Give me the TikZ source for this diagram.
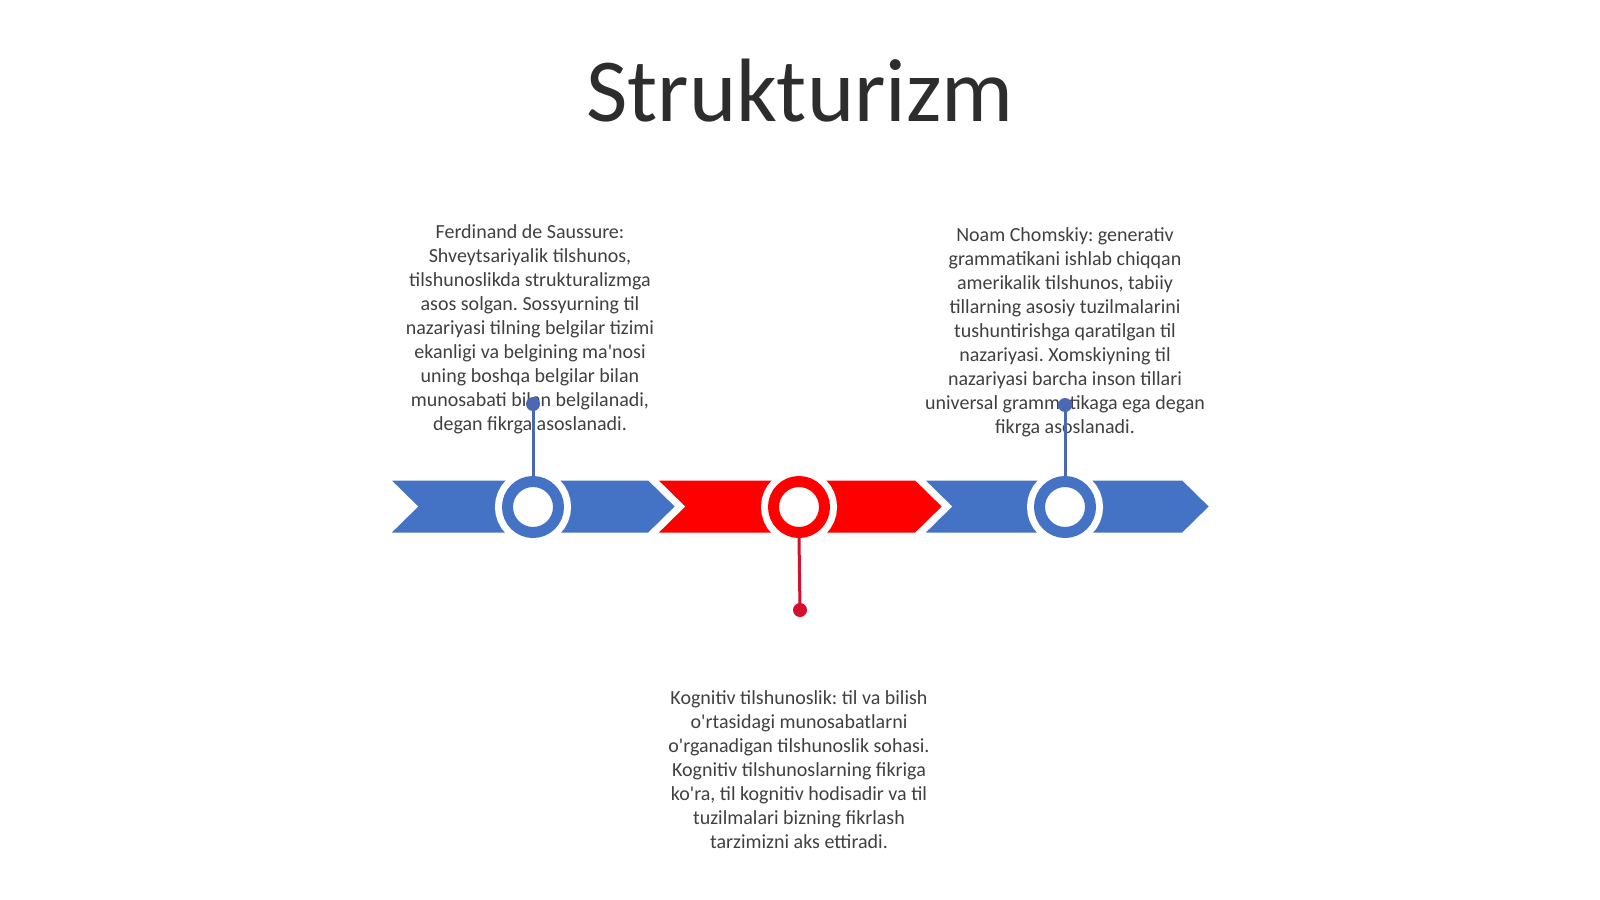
\documentclass[tikz,border=0pt]{standalone}
\usepackage{fontspec}
\setmainfont{Carlito}[Ligatures=TeXOff]
\usepackage{tikz}
\usetikzlibrary{calc,positioning,shapes}
\definecolor{segblue}{HTML}{4472C4}
\definecolor{segred}{HTML}{FF0000}
\definecolor{lineblue}{HTML}{4A68B4}
\definecolor{linered}{HTML}{D4102C}
\definecolor{txtgray}{HTML}{404040}
\tikzstyle{segment}   = [draw=white, line width=1.5pt, line join=miter]
\tikzstyle{ring}      = [circle, inner sep=0pt, minimum size=25.5pt, line width=5.5pt, fill=white, preaction={draw=white, line width=12.5pt}]
\tikzstyle{dot}       = [circle, inner sep=0pt, minimum size=7pt]
\tikzstyle{stem}      = [line width=1.5pt]
\tikzstyle{note}      = [align=center, inner sep=0pt, anchor=base, text=txtgray, font=\fontsize{10}{11.95}\selectfont]

\frenchspacing
\begin{document}
\begin{tikzpicture}[x=0.5pt,y=-0.5pt]
		\useasboundingbox[fill=white] (0,0) rectangle (1600,899);
		% title
		\node[anchor=base, text=txtgray!70!black, font=\fontsize{45}{54}\selectfont] (title) at (800,122) {Strukturizm};
		% texts (anchored at the last line)
		\node[note] (saussure) at (530,430) {Ferdinand de Saussure:\\ Shveytsariyalik tilshunos,\\ tilshunoslikda strukturalizmga\\ asos solgan. Sossyurning til\\ nazariyasi tilning belgilar tizimi\\ ekanligi va belgining ma'nosi\\ uning boshqa belgilar bilan\\ munosabati bilan belgilanadi,\\ degan fikrga asoslanadi.};
		\node[note] (chomsky) at (1065,433) {Noam Chomskiy: generativ\\ grammatikani ishlab chiqqan\\ amerikalik tilshunos, tabiiy\\ tillarning asosiy tuzilmalarini\\ tushuntirishga qaratilgan til\\ nazariyasi. Xomskiyning til\\ nazariyasi barcha inson tillari\\ universal grammatikaga ega degan\\ fikrga asoslanadi.};
		\node[note] (kognitiv) at (799,848) {Kognitiv tilshunoslik: til va bilish\\ o'rtasidagi munosabatlarni\\ o'rganadigan tilshunoslik sohasi.\\ Kognitiv tilshunoslarning fikriga\\ ko'ra, til kognitiv hodisadir va til\\ tuzilmalari bizning fikrlash\\ tarzimizni aks ettiradi.};
		% arrow band
		\foreach \x/\c in {388/segblue,655/segred,922/segblue}
			\fill[segment, fill=\c] (\x,479) -- ++(261,0) -- ++(28,27.5) -- ++(-28,27.5) -- ++(-261,0) -- ++(28,-27.5) -- cycle;
		% rings
		\node[ring, draw=segblue] (ring1) at (533,507) {};
		\node[ring, draw=segred]  (ring2) at (799,507) {};
		\node[ring, draw=segblue] (ring3) at (1065,507) {};
		% stems
		\node[dot, fill=lineblue] (dot1) at (533,404) {};
		\node[dot, fill=linered]  (dot2) at (800,610) {};
		\node[dot, fill=lineblue] (dot3) at (1065,405) {};
		\draw[stem, lineblue] (ring1.north) -- (dot1.center);
		\draw[stem, linered]  (ring2.south) -- (dot2.center);
		\draw[stem, lineblue] (ring3.north) -- (dot3.center);
	\end{tikzpicture}
\end{document}
